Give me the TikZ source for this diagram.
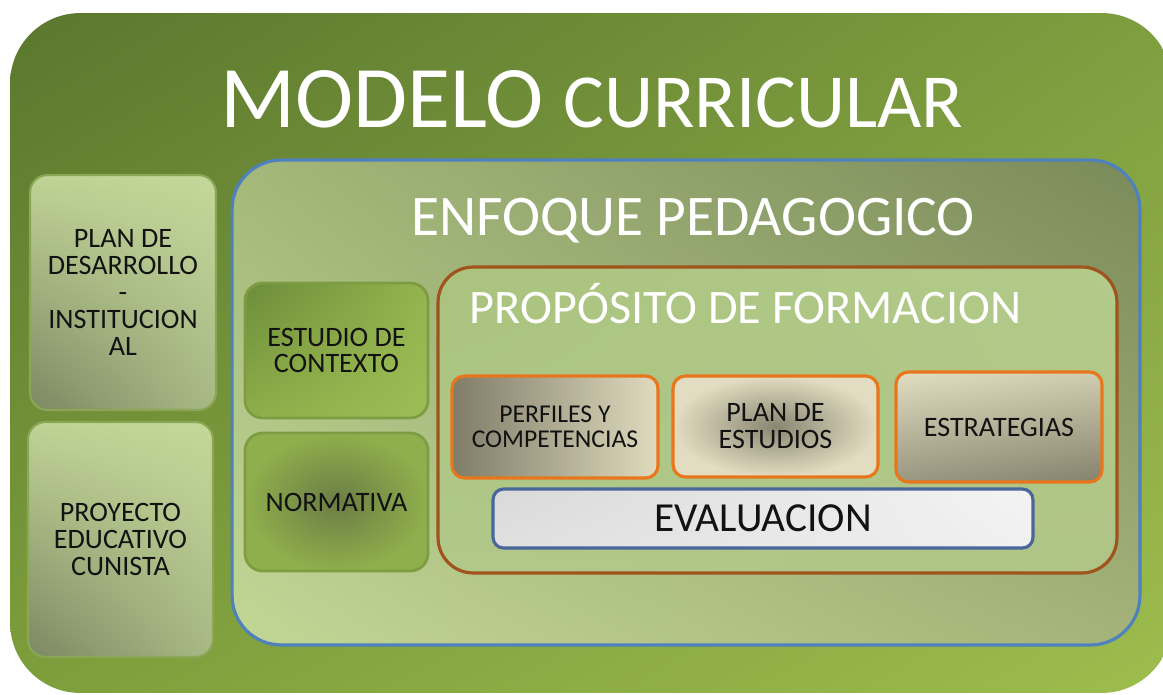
\documentclass[tikz,border=0pt]{standalone}
\usepackage{fontspec}
\setmainfont{Carlito}
\usetikzlibrary{positioning, shadings}

\definecolor{boxtext}{HTML}{121212}
\definecolor{bluerim}{HTML}{4F81BD}
\definecolor{brownrim}{HTML}{A0531C}
\definecolor{orangerim}{HTML}{E8761C}
\definecolor{greenrim}{HTML}{7E9D42}
\definecolor{evalrim}{HTML}{4A6799}

\tikzset{
  panel/.style={rounded corners=10pt, inner sep=0pt, align=center, text=boxtext,
    font=\fontsize{16}{15.3}\selectfont},
  sidebox/.style={panel, draw=greenrim!90, line width=1.2pt,
    upper left={rgb,255:red,192;green,211;blue,150},
    upper right={rgb,255:red,196;green,216;blue,154},
    lower left={rgb,255:red,124;green,136;blue,98},
    lower right={rgb,255:red,168;green,185;blue,133},
    minimum width=3.72cm, minimum height=4.7cm},
  greenbox/.style={panel, draw=greenrim, line width=1.6pt,
    minimum width=3.66cm},
  tanbox/.style={panel, rounded corners=7pt, draw=orangerim, line width=1.8pt,
    minimum width=4.12cm},
  titletext/.style={text=white, inner sep=0pt, anchor=base}
}

\begin{document}
\begin{tikzpicture}[x=0.02cm, y=-0.02cm]
  % Canvas
  \useasboundingbox (0,0) rectangle (1163,694);
  \fill[white] (0,0) rectangle (1163,694);
  \clip (0,0) rectangle (1163,694);

  % Outer frame
  \node[rounded corners=40pt, inner sep=0pt,
    upper left={rgb,255:red,90;green,119;blue,46},
    upper right={rgb,255:red,127;green,158;blue,63},
    lower left={rgb,255:red,126;green,158;blue,60},
    lower right={rgb,255:red,157;green,189;blue,78},
    minimum width=23.24cm, minimum height=13.6cm] (modelo) at (591,353) {};
  \node[titletext] (modelotitle) at (591.5,127)
    {{\fontsize{50}{50}\selectfont MODELO\ }{\fontsize{43.5}{43.5}\selectfont CURRICULAR}};

  % Left column
  \node[sidebox] (plandes) at (123,292.5) {PLAN DE\\DESARROLLO\\-\\INSTITUCION\\AL};
  \node[sidebox, minimum width=3.7cm] (proyecto) at (120.5,539.5) {PROYECTO\\EDUCATIVO\\CUNISTA};

  % Enfoque pedagogico
  \node[rounded corners=28pt, inner sep=0pt, draw=bluerim, line width=1.8pt,
    upper left={rgb,255:red,164;green,184;blue,122},
    upper right={rgb,255:red,122;green,138;blue,90},
    lower left={rgb,255:red,194;green,214;blue,150},
    lower right={rgb,255:red,163;green,179;blue,121},
    minimum width=18.16cm, minimum height=9.7cm] (enfoque) at (686,402.5) {};
  \node[titletext] (enfoquetitle) at (693,235)
    {\fontsize{32.7}{32.7}\selectfont ENFOQUE PEDAGOGICO};

  \node[greenbox, minimum height=2.7cm,
    upper left={rgb,255:red,109;green,140;blue,58},
    upper right={rgb,255:red,148;green,180;blue,78},
    lower left={rgb,255:red,142;green,174;blue,74},
    lower right={rgb,255:red,157;green,190;blue,85}] (estudio) at (336.5,350.5)
    {ESTUDIO DE\\CONTEXTO};
  \node[greenbox, minimum height=2.76cm,
    inner color={rgb,255:red,107;green,125;blue,69},
    outer color={rgb,255:red,143;green,175;blue,76}] (normativa) at (336.5,502)
    {NORMATIVA};

  % Proposito de formacion
  \node[rounded corners=20pt, inner sep=0pt, draw=brownrim, line width=1.8pt,
    upper left={rgb,255:red,169;green,195;blue,126},
    upper right={rgb,255:red,179;green,203;blue,138},
    lower left={rgb,255:red,176;green,201;blue,138},
    lower right={rgb,255:red,175;green,196;blue,134},
    minimum width=13.58cm, minimum height=6.12cm] (proposito) at (777.5,420) {};
  \node[titletext] (propositotitle) at (745.5,323)
    {\fontsize{27.4}{27.4}\selectfont PROPÓSITO DE FORMACION};

  \node[tanbox, minimum height=2.04cm, font=\fontsize{14.6}{14.2}\selectfont,
    left color={rgb,255:red,127;green,124;blue,104},
    right color={rgb,255:red,224;green,219;blue,190}] (perfiles) at (555,427)
    {PERFILES Y\\COMPETENCIAS};
  \node[tanbox, minimum width=4.1cm, minimum height=2.02cm,
    inner color={rgb,255:red,138;green,134;blue,114},
    outer color={rgb,255:red,226;green,221;blue,193}] (planest) at (775.5,426.5)
    {PLAN DE\\ESTUDIOS};
  \node[tanbox, minimum height=2.2cm,
    upper left={rgb,255:red,226;green,222;blue,194},
    upper right={rgb,255:red,208;green,204;blue,176},
    lower left={rgb,255:red,154;green,150;blue,128},
    lower right={rgb,255:red,133;green,130;blue,108}] (estrategias) at (999,427)
    {ESTRATEGIAS};

  \node[panel, rounded corners=6pt, draw=evalrim, line width=1.8pt,
    font=\fontsize{23.5}{23.5}\selectfont,
    upper left={rgb,255:red,217;green,217;blue,217},
    upper right={rgb,255:red,244;green,244;blue,244},
    lower left={rgb,255:red,224;green,224;blue,224},
    lower right={rgb,255:red,240;green,240;blue,240},
    minimum width=10.8cm, minimum height=1.18cm] (evaluacion) at (763,518.5)
    {EVALUACION};
\end{tikzpicture}
\end{document}
